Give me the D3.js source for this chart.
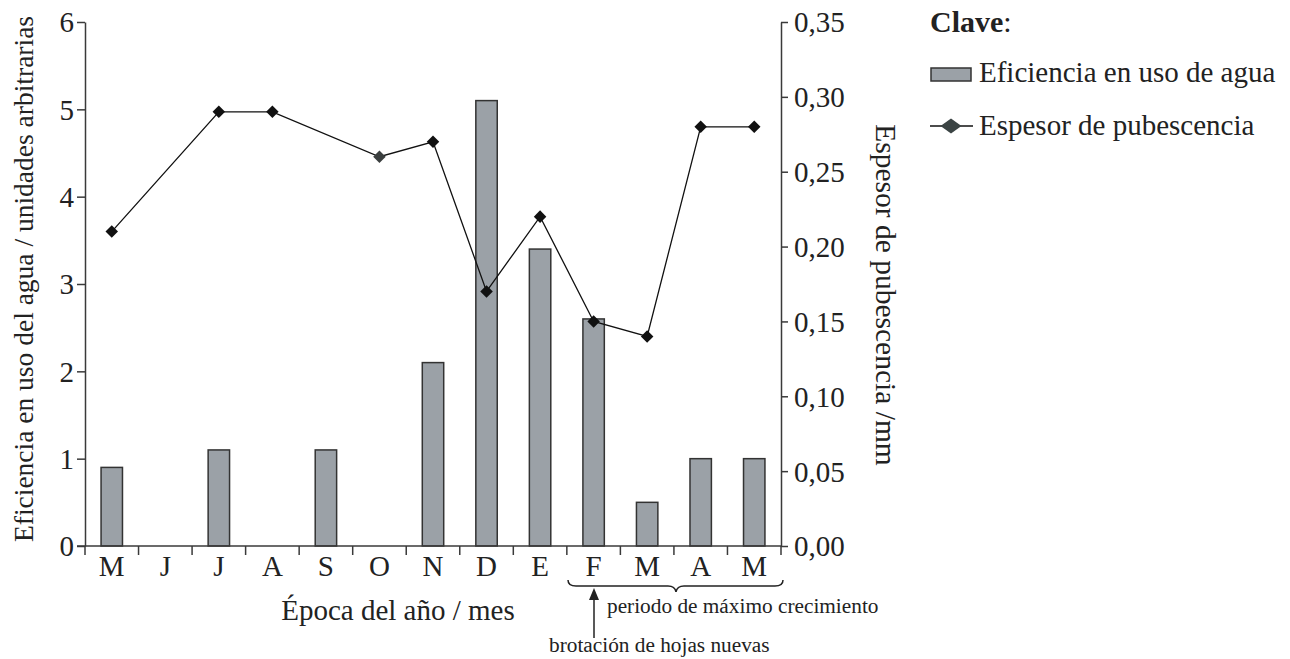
<!DOCTYPE html>
<html>
<head>
<meta charset="utf-8">
<script src="https://cdn.jsdelivr.net/npm/d3@7"></script>
<style>
	body { margin: 0; background: #fff; }
	svg { font-family: 'Liberation Serif', 'DejaVu Serif', serif; }
	.axis text { font-family: 'Liberation Serif', serif; font-size: 29px; fill: #222; }
	.axis .domain, .axis .tick line { stroke: #3a3a3a; stroke-width: 1.5; }
</style>
</head>
<body>
<svg width="1290" height="659"></svg>
<script>
const months = ['M', 'J', 'J', 'A', 'S', 'O', 'N', 'D', 'E', 'F', 'M', 'A', 'M'];
const efficiency = [0.9, 0, 1.1, 0, 1.1, 0, 2.1, 5.1, 3.4, 2.6, 0.5, 1.0, 1.0];
const pubescence = [0.21, null, 0.29, 0.29, null, 0.26, 0.27, 0.17, 0.22, 0.15, 0.14, 0.28, 0.28];
const leftTicks = [0, 1, 2, 3, 4, 5, 6];
const rightTicks = [0, 0.05, 0.10, 0.15, 0.20, 0.25, 0.30, 0.35];

const svg = d3.select('svg');

const plot = { left: 85, right: 781, top: 22, bottom: 546 };

const x = d3.scaleBand()
	.domain(d3.range(months.length))
	.range([plot.left, plot.right]);

const yLeft = d3.scaleLinear().domain([0, 6]).range([plot.bottom, plot.top]);
const yRight = d3.scaleLinear().domain([0, 0.35]).range([plot.bottom, plot.top]);

// bars
const barW = x.bandwidth() * 0.4;
svg.selectAll('.bar')
	.data(efficiency.map((v, i) => ({ v, i })).filter((d) => d.v > 0))
	.enter()
	.append('rect')
	.attr('class', 'bar')
	.attr('x', (d) => x(d.i) + (x.bandwidth() - barW) / 2)
	.attr('y', (d) => yLeft(d.v))
	.attr('width', barW)
	.attr('height', (d) => plot.bottom - yLeft(d.v))
	.attr('fill', '#9ba1a7')
	.attr('stroke', '#333')
	.attr('stroke-width', 1.5);

// axes
svg.append('g')
	.attr('class', 'axis')
	.attr('transform', `translate(${plot.left},0)`)
	.call(d3.axisLeft(yLeft).tickValues(leftTicks).tickFormat(d3.format('d')).tickSize(8).tickPadding(3).tickSizeOuter(0))
	.call((g) => g.selectAll('text').attr('dy', '0.34em'));

svg.append('g')
	.attr('class', 'axis')
	.attr('transform', `translate(${plot.right},0)`)
	.call(d3.axisRight(yRight).tickValues(rightTicks).tickSize(7).tickPadding(6).tickSizeOuter(0)
		.tickFormat((d) => d3.format('.2f')(d).replace('.', ',')))
	.call((g) => g.selectAll('text').attr('dy', '0.34em'));

// x axis: line with ticks at category boundaries
const xAxis = svg.append('g');
xAxis.append('line')
	.attr('x1', plot.left - 8).attr('x2', plot.right)
	.attr('y1', plot.bottom).attr('y2', plot.bottom)
	.attr('stroke', '#3a3a3a').attr('stroke-width', 1.5);
xAxis.selectAll('.xtick')
	.data(d3.range(months.length + 1))
	.enter()
	.append('line')
	.attr('x1', (i) => plot.left + i * x.step())
	.attr('x2', (i) => plot.left + i * x.step())
	.attr('y1', plot.bottom)
	.attr('y2', plot.bottom + 9)
	.attr('stroke', '#3a3a3a').attr('stroke-width', 1.5);
xAxis.selectAll('.xlabel')
	.data(months)
	.enter()
	.append('text')
	.text((d) => d)
	.attr('x', (d, i) => x(i) + x.bandwidth() / 2)
	.attr('y', 576)
	.attr('text-anchor', 'middle')
	.attr('font-size', 29)
	.attr('fill', '#222');

// line series
const linePts = pubescence.map((v, i) => ({ v, i })).filter((d) => d.v !== null);
const line = d3.line()
	.x((d) => x(d.i) + x.bandwidth() / 2)
	.y((d) => yRight(d.v));

svg.append('path')
	.datum(linePts)
	.attr('d', line)
	.attr('fill', 'none')
	.attr('stroke', '#111')
	.attr('stroke-width', 1.3);

const diamond = d3.symbol().type(d3.symbolDiamond2).size(100);
svg.selectAll('.pt')
	.data(linePts)
	.enter()
	.append('path')
	.attr('d', diamond)
	.attr('transform', (d) => `translate(${x(d.i) + x.bandwidth() / 2},${yRight(d.v)})`)
	.attr('fill', (d) => d.i === 5 ? '#3b3f3f' : '#111');

// axis titles
svg.append('text')
	.text('Eficiencia en uso del agua / unidades arbitrarias')
	.attr('transform', 'translate(33,279) rotate(-90)')
	.attr('text-anchor', 'middle')
	.attr('font-size', 27.5)
	.attr('fill', '#222');

svg.append('text')
	.text('Espesor de pubescencia /mm')
	.attr('transform', 'translate(876,295) rotate(90)')
	.attr('text-anchor', 'middle')
	.attr('font-size', 29.5)
	.attr('fill', '#222');

svg.append('text')
	.text('Época del año / mes')
	.attr('x', 398)
	.attr('y', 620)
	.attr('text-anchor', 'middle')
	.attr('font-size', 29)
	.attr('fill', '#222');

// growth period brace
const bx0 = 568, bx1 = plot.right + 2, by = 580, bmid = 676;
svg.append('path')
	.attr('d', `M ${bx0} ${by} q 0 6 8 6 L ${bmid - 8} ${by + 6} q 7 0 8 6 q 1 -6 8 -6 L ${bx1 - 8} ${by + 6} q 8 0 8 -6`)
	.attr('fill', 'none')
	.attr('stroke', '#222')
	.attr('stroke-width', 1.5);

svg.append('text')
	.text('periodo de máximo crecimiento')
	.attr('x', 607)
	.attr('y', 613)
	.attr('font-size', 21.3)
	.attr('fill', '#222');

// new leaves arrow
const ax = 594;
svg.append('line')
	.attr('x1', ax).attr('x2', ax)
	.attr('y1', 598).attr('y2', 638)
	.attr('stroke', '#222').attr('stroke-width', 1.5);
svg.append('path')
	.attr('d', `M ${ax} 588 L ${ax - 5} 600 L ${ax + 5} 600 Z`)
	.attr('fill', '#222');

svg.append('text')
	.text('brotación de hojas nuevas')
	.attr('x', 549)
	.attr('y', 652)
	.attr('font-size', 21.3)
	.attr('fill', '#222');

// legend
const legend = svg.append('g');
const clave = legend.append('text')
	.attr('x', 930)
	.attr('y', 32)
	.attr('font-size', 30)
	.attr('fill', '#222');
clave.append('tspan').text('Clave').attr('font-weight', 'bold');
clave.append('tspan').text(':');

legend.append('rect')
	.attr('x', 931).attr('y', 68)
	.attr('width', 40).attr('height', 13)
	.attr('fill', '#9ba1a7')
	.attr('stroke', '#333')
	.attr('stroke-width', 1.5);
legend.append('text')
	.text('Eficiencia en uso de agua')
	.attr('x', 979)
	.attr('y', 82)
	.attr('font-size', 29)
	.attr('fill', '#222');

legend.append('line')
	.attr('x1', 930).attr('x2', 973)
	.attr('y1', 126).attr('y2', 126)
	.attr('stroke', '#111').attr('stroke-width', 1.3);
legend.append('path')
	.attr('d', 'M 951 118.5 L 961.5 126 L 951 133.5 L 940.5 126 Z')
	.attr('fill', '#3b4444');
legend.append('text')
	.text('Espesor de pubescencia')
	.attr('x', 979)
	.attr('y', 135)
	.attr('font-size', 29)
	.attr('fill', '#222');
</script>
</body>
</html>
